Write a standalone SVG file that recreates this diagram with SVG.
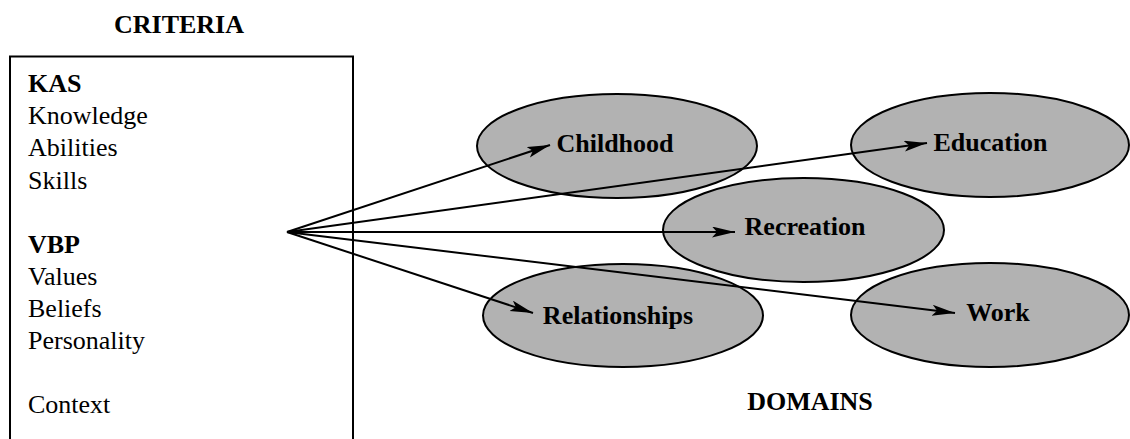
<svg xmlns="http://www.w3.org/2000/svg" width="1130" height="439" viewBox="0 0 1130 439">
  <style>
    .t { font-family: "Liberation Serif", "Times New Roman", serif; font-size: 26px; fill: #000; }
    .b { font-weight: bold; }
    .node { fill: #b2b2b2; stroke: #000; stroke-width: 2; }
    .conn { stroke: #000; stroke-width: 2; fill: none; marker-end: url(#arr); }
  </style>
  <defs>
    <marker id="arr" markerUnits="userSpaceOnUse" markerWidth="24" markerHeight="12" refX="23" refY="5.5" orient="auto">
      <path d="M0,0 L23,5.5 L0,11 L5,5.5 z" fill="#000"/>
    </marker>
  </defs>
  <rect width="1130" height="439" fill="#fff"/>

  <g id="criteria">
    <text class="t b" x="179" y="33" text-anchor="middle">CRITERIA</text>
    <path d="M10,445 L10,56.5 L353,56.5 L353,445" fill="none" stroke="#000" stroke-width="2"/>
    <text class="t b" x="28" y="92">KAS</text>
    <text class="t" x="28" y="124">Knowledge</text>
    <text class="t" x="28" y="156">Abilities</text>
    <text class="t" x="28" y="188.5">Skills</text>
    <text class="t b" x="28" y="253">VBP</text>
    <text class="t" x="28" y="285">Values</text>
    <text class="t" x="28" y="317">Beliefs</text>
    <text class="t" x="28" y="349">Personality</text>
    <text class="t" x="28" y="413">Context</text>
  </g>

  <g id="childhood">
    <ellipse class="node" cx="617" cy="146" rx="140" ry="52"/>
    <text class="t b" x="615" y="152" text-anchor="middle">Childhood</text>
  </g>
  <g id="education">
    <ellipse class="node" cx="990" cy="145" rx="139" ry="52"/>
    <text class="t b" x="990.5" y="151" text-anchor="middle">Education</text>
  </g>
  <g id="recreation">
    <ellipse class="node" cx="803.5" cy="230" rx="140.5" ry="52"/>
    <text class="t b" x="805" y="235" text-anchor="middle">Recreation</text>
  </g>
  <g id="relationships">
    <ellipse class="node" cx="623" cy="315.5" rx="140" ry="51.5"/>
    <text class="t b" x="618" y="324" text-anchor="middle">Relationships</text>
  </g>
  <g id="work">
    <ellipse class="node" cx="990" cy="315" rx="139" ry="52"/>
    <text class="t b" x="998" y="321" text-anchor="middle">Work</text>
  </g>

  <g id="domains-label">
    <text class="t b" x="810" y="410" text-anchor="middle">DOMAINS</text>
  </g>

  <g id="connectors">
    <line class="conn" x1="287" y1="232" x2="550" y2="145"/>
    <line class="conn" x1="287" y1="232" x2="927" y2="143"/>
    <line class="conn" x1="287" y1="232" x2="735" y2="232"/>
    <line class="conn" x1="287" y1="232" x2="533" y2="313"/>
    <line class="conn" x1="303" y1="234" x2="955" y2="313"/>
    <line x1="287" y1="232" x2="303" y2="234" stroke="#000" stroke-width="2"/>
  </g>
</svg>
